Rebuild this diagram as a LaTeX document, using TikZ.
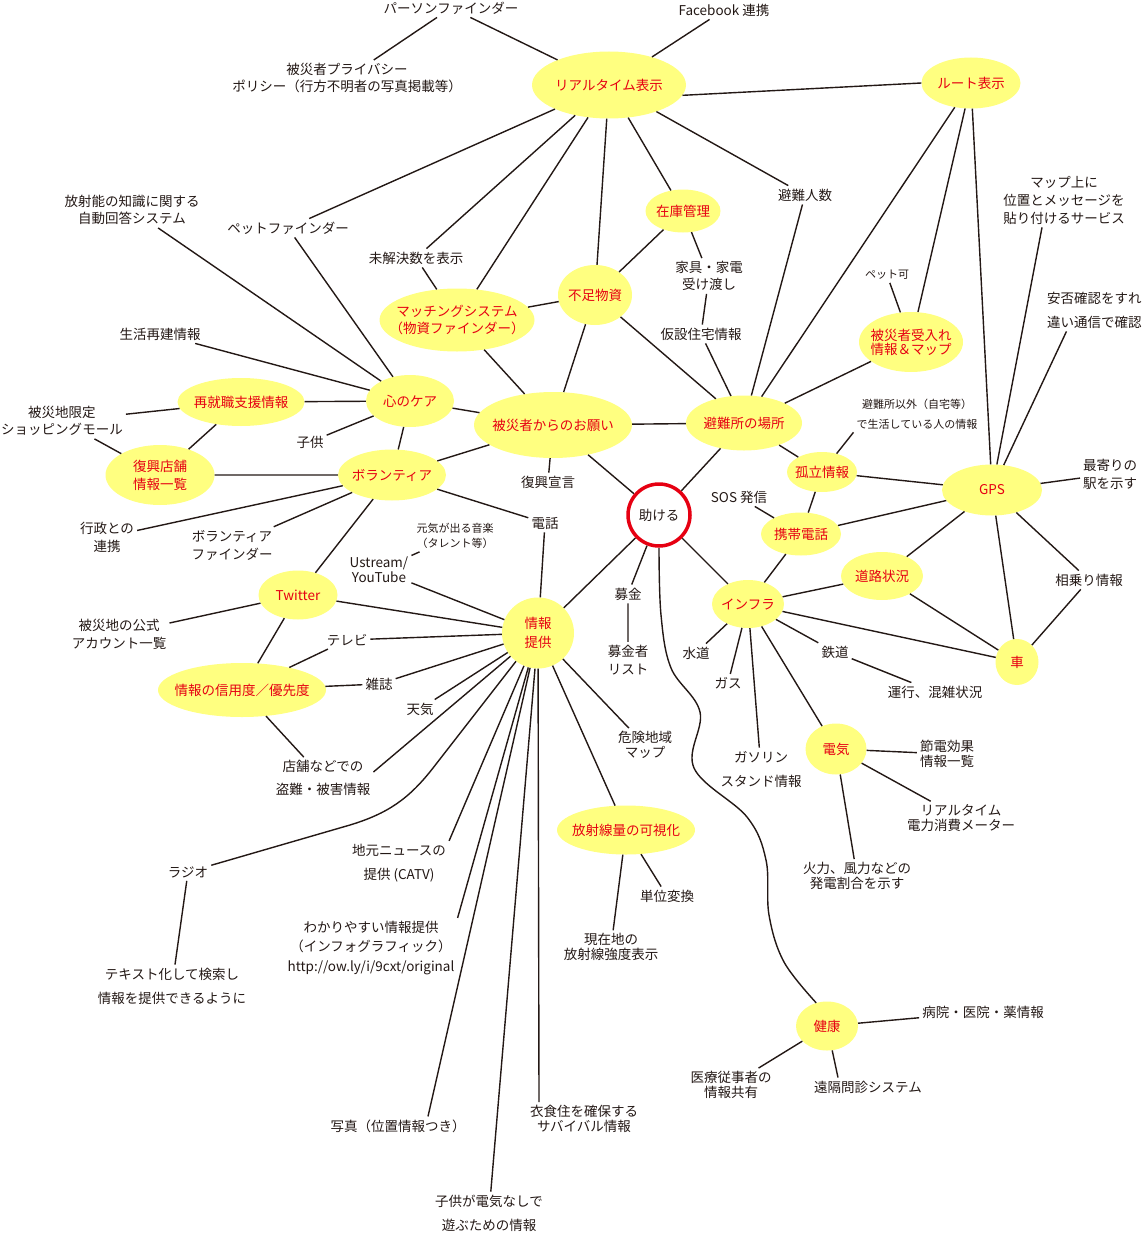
\documentclass[tikz,border=0pt]{standalone}
\usepackage{fontspec}
\setmainfont{Noto Sans CJK JP}
\usetikzlibrary{shapes.geometric}
\definecolor{topicfill}{HTML}{FFFF80}
\definecolor{topicred}{HTML}{E60012}
\definecolor{linecol}{HTML}{231815}
\begin{document}
\begin{tikzpicture}[
   x=1pt, y=-1pt,
   every node/.style={font=\fontsize{13.5}{17}\selectfont, text=linecol},
   topic/.style={ellipse, fill=topicfill, text=topicred, align=center,
                 inner xsep=-20pt, inner ysep=-12pt},
   sz/.style 2 args={minimum width=#1pt, minimum height=#2pt},
   item/.style={align=center, inner sep=3pt},
   small/.style={font=\fontsize{11}{13}\selectfont},
   link/.style={draw=linecol, line width=1.4pt}]

\useasboundingbox (0,0) rectangle (1143,1236);

% topics
\node[topic, sz={154}{67}] (realtime) at (609,85) {リアルタイム表示};
\node[topic, sz={99}{51}] (route) at (971,83) {ルート表示};
\node[topic, sz={75}{43}] (stock) at (683,211) {在庫管理};
\node[topic, sz={74}{60}] (shortage) at (595,295) {不足物資};
\node[topic, sz={155}{63}] (matching) at (457,320) {マッチングシステム\\（物資ファインダー）};
\node[topic, sz={88}{52}] (kokoro) at (410,401) {心のケア};
\node[topic, sz={127}{48}] (saishu) at (241,402) {再就職支援情報};
\node[topic, sz={158}{66}] (onegai) at (553,425) {被災者からのお願い};
\node[topic, sz={116}{55}] (hinanjo) at (744,423) {避難所の場所};
\node[topic, sz={104}{60}] (ukeire) at (911,342) {被災者受入れ\\[-3pt]情報＆マップ};
\node[topic, sz={109}{60}] (fukkoshop) at (160,475) {復興店舗\\[1pt]情報一覧};
\node[topic, sz={108}{51}] (volunteer) at (392,475) {ボランティア};
\node[topic, sz={70}{40}] (koritsu) at (822,472) {孤立情報};
\node[topic, sz={100}{51}] (gps) at (992,490) {GPS};
\node[topic, sz={80}{43}] (keitai) at (801,534) {携帯電話};
\node[topic, sz={82}{48}] (doro) at (882,576) {道路状況};
\node[topic, sz={72}{48}] (infra) at (748,604) {インフラ};
\node[topic, sz={79}{49}] (twitter) at (298,595) {Twitter};
\node[topic, sz={72}{71}] (info) at (538,633) {情報\\[2pt]提供};
\node[topic, sz={168}{54}] (shinyo) at (242,690) {情報の信用度／優先度};
\node[topic, sz={43}{46}] (car) at (1017,662) {車};
\node[topic, sz={61}{51}] (denki) at (836,749) {電気};
\node[topic, sz={138}{49}] (hoshasen) at (626,830) {放射線量の可視化};
\node[topic, sz={62}{49}] (kenko) at (827,1026) {健康};
\node[circle, draw=topicred, line width=3.5pt, fill=white, minimum size=62pt,
      inner sep=0pt, outer sep=2pt] (help) at (659,515) {助ける};

% items
\node[item] (personfinder) at (451,8) {パーソンファインダー};
\node[item] (facebook) at (724,10) {Facebook 連携};
\node[item] (privacy) at (347,78) {被災者プライバシー\\ポリシー（行方不明者の写真掲載等）};
\node[item] (radknowledge) at (132,210) {放射能の知識に関する\\自動回答システム};
\node[item] (petfinder) at (288,228) {ペットファインダー};
\node[item] (unsolved) at (416,258) {未解決数を表示};
\node[item] (evacnum) at (805,195) {避難人数};
\node[item] (furniture) at (709,276) {家具・家電\\受け渡し};
\node[item] (temphouse) at (701,334) {仮設住宅情報};
\node[item, small] (petok) at (887,275) {ペット可};
\node[item] (mapmsg) at (1064,200) {マップ上に\\[1pt]位置とメッセージを\\[1pt]貼り付けるサービス};
\node[item, align=left, anchor=west] (anpi) at (1044,310) {安否確認をすれ\\[7pt]違い通信で確認};
\node[item] (liferebuild) at (160,334) {生活再建情報};
\node[item] (shopmall) at (62,421) {被災地限定\\ショッピングモール};
\node[item] (kids) at (310,442) {子供};
\node[item, small] (outside) at (917,414) {避難所以外（自宅等）\\[7pt]で生活している人の情報};
\node[item] (fukkodecl) at (548,482) {復興宣言};
\node[item, align=left, anchor=west] (nearest) at (1080,474) {最寄りの\\[1pt]駅を示す};
\node[item] (sos) at (739,497) {SOS 発信};
\node[item] (phone) at (545,523) {電話};
\node[item, small] (music) at (455,536) {元気が出る音楽\\[2pt]（タレント等）};
\node[item] (ustream) at (379,570) {Ustream/\\[-2pt]YouTube};
\node[item] (gyosei) at (107,537) {行政との\\[1pt]連携};
\node[item] (volfinder) at (232,545) {ボランティア\\[1pt]ファインダー};
\node[item] (ainori) at (1089,580) {相乗り情報};
\node[item] (official) at (119,634) {被災地の公式\\[1pt]アカウント一覧};
\node[item] (tv) at (347,640) {テレビ};
\node[item] (bokin) at (628,594) {募金};
\node[item] (bokinlist) at (628,660) {募金者\\[1pt]リスト};
\node[item] (water) at (696,653) {水道};
\node[item] (rail) at (835,652) {鉄道};
\node[item] (gas) at (728,683) {ガス};
\node[item] (magazine) at (379,684) {雑誌};
\node[item] (unko) at (935,692) {運行、混雑状況};
\node[item] (weather) at (420,709) {天気};
\node[item] (danger) at (645,745) {危険地域\\[-2pt]マップ};
\node[item] (theft) at (323,778) {店舗などでの\\[6pt]盗難・被害情報};
\node[item] (gasoline) at (761,769) {ガソリン\\[7pt]スタンド情報};
\node[item] (setsuden) at (947,754) {節電効果\\[-2pt]情報一覧};
\node[item] (meter) at (961,818) {リアルタイム\\[-2pt]電力消費メーター};
\node[item] (radio) at (188,872) {ラジオ};
\node[item] (localnews) at (399,863) {地元ニュースの\\[7pt]提供 (CATV)};
\node[item] (karyoku) at (857,876) {火力、風力などの\\[-2pt]発電割合を示す};
\node[item] (unitconv) at (667,896) {単位変換};
\node[item] (infographic) at (371,948) {わかりやすい情報提供\\[2.5pt]（インフォグラフィック）\\[2.5pt]http://ow.ly/i/9cxt/original};
\node[item] (genzai) at (611,947) {現在地の\\[-2.5pt]放射線強度表示};
\node[item] (textsearch) at (172,986) {テキスト化して検索し\\[7pt]情報を提供できるように};
\node[item] (hospital) at (983,1012) {病院・医院・薬情報};
\node[item] (iryo) at (731,1085) {医療従事者の\\[-2pt]情報共有};
\node[item] (enkaku) at (868,1087) {遠隔問診システム};
\node[item] (survival) at (584,1119) {衣食住を確保する\\[-2pt]サバイバル情報};
\node[item] (photo) at (398,1126) {写真（位置情報つき）};
\node[item] (kidsplay) at (489,1213) {子供が電気なしで\\[7pt]遊ぶための情報};

% connectors
\draw[link] (realtime) -- (personfinder) (realtime) -- (facebook)
   (realtime) -- (petfinder) (realtime) -- (unsolved) (realtime) -- (matching)
   (realtime) -- (shortage) (realtime) -- (stock) (realtime) -- (evacnum)
   (realtime.-8) -- (route.west);
\draw[link] (personfinder) -- (privacy);
\draw[link] (route) -- (hinanjo) (route) -- (ukeire) (route) -- (gps);
\draw[link] (stock) -- (shortage) (stock) -- (furniture)
   (furniture) -- (temphouse) (temphouse) -- (hinanjo) (evacnum) -- (hinanjo);
\draw[link] (shortage) -- (hinanjo) (shortage) -- (onegai) (shortage) -- (matching)
   (matching) -- (unsolved) (matching) -- (onegai);
\draw[link] (petok) -- (ukeire) (ukeire) -- (hinanjo);
\draw[link] (hinanjo) -- (onegai) (hinanjo) -- (help) (hinanjo) -- (koritsu);
\draw[link] (koritsu) -- (outside.south west) (koritsu) -- (gps) (koritsu) -- (keitai);
\draw[link] (sos) -- (keitai) (keitai) -- (gps) (keitai) -- (infra);
\draw[link] (gps) -- ([xshift=-22pt]mapmsg.south) (gps) -- ([xshift=-28pt]anpi.south)
   (gps) -- (nearest) (gps) -- (ainori) (gps) -- (car) (gps) -- (doro);
\draw[link] (doro) -- (infra) (doro) -- (car) (infra) -- (car) (ainori) -- (car);
\draw[link] (infra) -- (help) (infra) -- (water) (infra) -- (gas) (infra) -- (gasoline)
   (infra) -- (rail) (infra) -- (denki) (rail) -- (unko);
\draw[link] (denki) -- (setsuden) (denki) -- (meter) (denki) -- (karyoku);
\draw[link] plot[smooth, tension=0.6] coordinates {(help.south) (661,615) (671,668)
   (700,712) (694,768) (747,817) (766,860) (769,915) (784,962) (kenko.115)};
\draw[link] (kenko) -- (hospital) (kenko) -- (iryo) (kenko) -- ([xshift=-30pt]enkaku.north);
\draw[link] (help) -- (onegai) (help) -- (bokin) (bokin) -- (bokinlist) (help) -- (info);
\draw[link] (onegai) -- (kokoro) (onegai) -- (fukkodecl) (onegai) -- (volunteer);
\draw[link] (kokoro) -- (saishu) (kokoro) -- (liferebuild) (kokoro) -- (radknowledge)
   (kokoro) -- (petfinder) (kokoro) -- (kids) (kokoro) -- (volunteer);
\draw[link] (saishu) -- (shopmall) (saishu) -- (fukkoshop) (shopmall) -- (fukkoshop);
\draw[link] (fukkoshop) -- (volunteer) (volunteer) -- (gyosei) (volunteer) -- (volfinder)
   (volunteer) -- (twitter) (volunteer) -- (phone);
\draw[link] (phone) -- (info) (music) -- (ustream) (ustream) -- (info) (twitter) -- (info)
   (twitter) -- (official) (twitter) -- (shinyo);
\draw[link] (tv) -- (shinyo) (tv) -- (info) (magazine) -- (shinyo) (magazine) -- (info)
   (weather) -- (info) (shinyo) -- (theft) ([yshift=6pt]theft.east) -- (info);
\draw[link] (info) -- (433,768) to[out=232,in=17] (350,825) -- (radio);
\draw[link] (radio) -- (textsearch);
\draw[link] (info) -- (localnews.north east) (info) -- (infographic.north east)
   (info) -- ([xshift=30pt]photo.north) (info) -- (kidsplay)
   (info) -- ([xshift=-45pt]survival.north) (info) -- (hoshasen) (info) -- (danger);
\draw[link] (hoshasen) -- (unitconv) (hoshasen) -- (genzai);

\end{tikzpicture}
\end{document}
